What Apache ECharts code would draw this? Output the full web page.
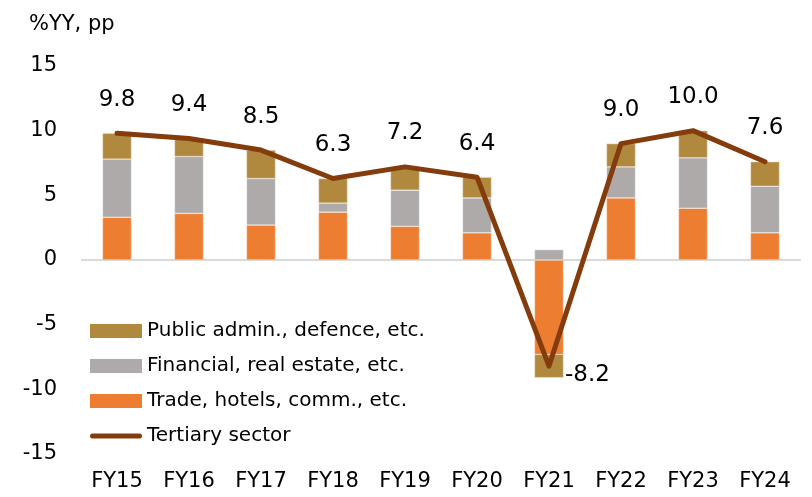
<!DOCTYPE html>
<html>
<head>
<meta charset="utf-8">
<script src="https://cdn.jsdelivr.net/npm/echarts@6/dist/echarts.min.js"></script>
<style>
  html, body { margin: 0; padding: 0; background: #fff; }
  #main { width: 812px; height: 497px; }
</style>
</head>
<body>
<div id="main"></div>
<script>
// categories and series values
var years = ['FY15', 'FY16', 'FY17', 'FY18', 'FY19', 'FY20', 'FY21', 'FY22', 'FY23', 'FY24'];
var trade = [3.3, 3.6, 2.7, 3.7, 2.6, 2.1, -7.3, 4.8, 4.0, 2.1];
var financial = [4.5, 4.4, 3.6, 0.7, 2.8, 2.7, 0.8, 2.4, 3.9, 3.6];
var publicAdmin = [2.0, 1.4, 2.2, 1.9, 1.8, 1.6, -1.8, 1.8, 2.1, 1.9];
var tertiary = [9.8, 9.4, 8.5, 6.3, 7.2, 6.4, -8.2, 9.0, 10.0, 7.6];

var chart = echarts.init(document.getElementById('main'));

var font = 'DejaVu Sans';

var lineData = tertiary.map(function (v, i) {
  if (v < 0) {
    return { value: v, label: { position: 'right', distance: 16, offset: [0, 9] } };
  }
  return v;
});

var option = {
  backgroundColor: '#ffffff',
  animation: false,
  textStyle: { fontFamily: font },
  title: {
    text: '%YY, pp',
    left: 24,
    top: 9,
    textStyle: { color: '#000', fontSize: 21, fontWeight: 'normal', fontFamily: font }
  },
  legend: {
    orient: 'vertical',
    left: 85,
    top: 316,
    itemWidth: 52,
    itemHeight: 14,
    itemGap: 15,
    itemStyle: { borderWidth: 0 },
    textStyle: { color: '#000', fontSize: 20, fontFamily: font },
    data: [
      { name: 'Public admin., defence, etc.', icon: 'rect' },
      { name: 'Financial, real estate, etc.', icon: 'rect' },
      { name: 'Trade, hotels, comm., etc.', icon: 'rect' },
      {
        name: 'Tertiary sector',
        icon: 'path://M2.5,0 L49.5,0 A2.5,2.5 0 0 1 49.5,5 L2.5,5 A2.5,2.5 0 0 1 2.5,0 Z',
        itemStyle: { color: '#843C0C', borderWidth: 0 }
      }
    ]
  },
  grid: {
    left: 81,
    right: 11,
    top: 66,
    bottom: 43
  },
  xAxis: {
    type: 'category',
    data: years,
    axisLine: { show: false, onZero: false },
    axisTick: { show: false },
    axisLabel: { color: '#000', fontSize: 21, margin: 17, fontFamily: font }
  },
  yAxis: {
    type: 'value',
    min: -15,
    max: 15,
    interval: 5,
    splitLine: { show: false },
    axisLine: { show: false },
    axisTick: { show: false },
    axisLabel: { color: '#000', fontSize: 21, margin: 24, fontFamily: font }
  },
  series: [
    {
      name: 'Trade, hotels, comm., etc.',
      type: 'bar',
      stack: 'tot',
      barWidth: 29,
      itemStyle: { color: '#ED7D31', borderColor: '#fbe3d3', borderWidth: 0.5 },
      data: trade,
      markLine: {
        silent: true,
        symbol: 'none',
        label: { show: false },
        lineStyle: { color: '#d9d9d9', width: 2, type: 'solid' },
        data: [{ yAxis: 0 }],
        z: 1
      }
    },
    {
      name: 'Financial, real estate, etc.',
      type: 'bar',
      stack: 'tot',
      barWidth: 29,
      itemStyle: { color: '#AEAAAA', borderColor: '#eeeeee', borderWidth: 0.5 },
      data: financial
    },
    {
      name: 'Public admin., defence, etc.',
      type: 'bar',
      stack: 'tot',
      barWidth: 29,
      itemStyle: { color: '#B0893E', borderColor: '#efe4cf', borderWidth: 0.5 },
      data: publicAdmin
    },
    {
      name: 'Tertiary sector',
      type: 'line',
      symbol: 'circle',
      symbolSize: 0,
      showAllSymbol: true,
      z: 5,
      lineStyle: { color: '#843C0C', width: 5, cap: 'round', join: 'round' },
      itemStyle: { color: '#843C0C' },
      label: {
        show: true,
        position: 'top',
        distance: 22,
        color: '#000',
        fontSize: 23,
        fontFamily: font,
        formatter: function (p) { return p.value.toFixed(1); }
      },
      data: lineData
    }
  ]
};

chart.setOption(option);
</script>
</body>
</html>
